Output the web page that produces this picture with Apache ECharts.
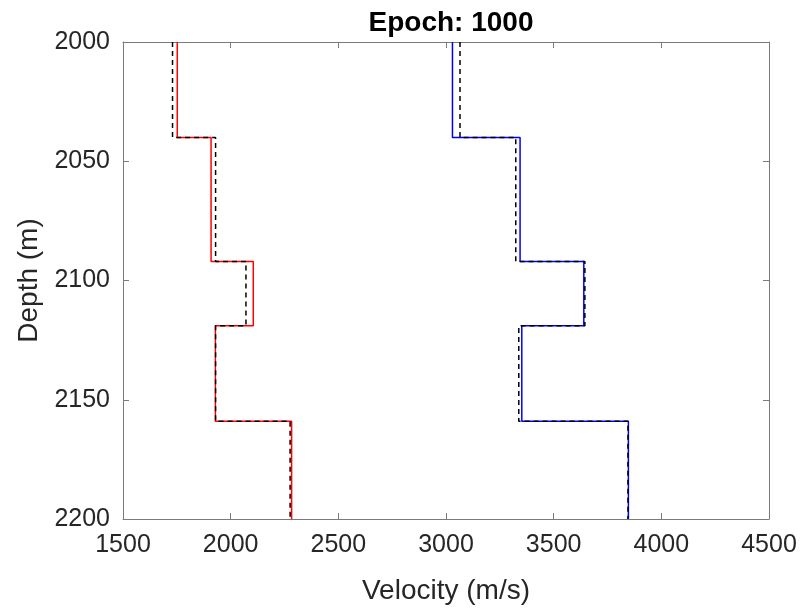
<!DOCTYPE html>
<html>
<head>
<meta charset="utf-8">
<script src="https://cdn.jsdelivr.net/npm/echarts@6/dist/echarts.min.js"></script>
<style>html,body{margin:0;padding:0;background:#fff}#c{width:805px;height:610px}</style>
</head>
<body>
<div id="c"></div>
<script>
const depthBounds = [2000, 2040, 2092, 2119, 2159, 2200];
const vpPred = [1752, 1909, 2105, 1929, 2283];
const vpTrue = [1730, 1930, 2071, 1930, 2276];
const vsPred = [3030, 3344, 3640, 3352, 3847];
const vsTrue = [3065, 3324, 3645, 3338, 3845];
const xTicks = [1500, 2000, 2500, 3000, 3500, 4000, 4500];
const yTicks = [2000, 2050, 2100, 2150, 2200];

function stepPoints(vals) {
  const pts = [];
  for (let i = 0; i < vals.length; i++) {
    pts.push([vals[i], depthBounds[i]]);
    pts.push([vals[i], depthBounds[i + 1]]);
  }
  return pts;
}

const font = '"Liberation Sans", Arial, sans-serif';
const axisCol = '#7a7a7a';
const txtCol = '#262626';
const chart = echarts.init(document.getElementById('c'), null, {renderer: 'canvas'});

function xAxisCfg(pos, show) {
  return {
    type: 'value', position: pos, min: xTicks[0], max: xTicks[xTicks.length - 1], interval: 500,
    axisLine: {show: true, onZero: false, lineStyle: {color: axisCol, width: 1}},
    axisTick: {show: true, inside: true, length: 6, lineStyle: {color: axisCol}},
    axisLabel: {show: show, color: txtCol, fontFamily: font, fontSize: 25, margin: 14,
      formatter: v => String(v)},
    splitLine: {show: false},
    name: show ? 'Velocity (m/s)' : '', nameLocation: 'middle', nameGap: 58,
    nameTextStyle: {color: txtCol, fontFamily: font, fontSize: 28}
  };
}
function yAxisCfg(pos, show) {
  return {
    type: 'value', position: pos, inverse: true, min: yTicks[0], max: yTicks[yTicks.length - 1], interval: 50,
    axisLine: {show: true, onZero: false, lineStyle: {color: axisCol, width: 1}},
    axisTick: {show: true, inside: true, length: 6, lineStyle: {color: axisCol}},
    axisLabel: {show: show, color: txtCol, fontFamily: font, fontSize: 25, margin: 13,
      formatter: v => String(v)},
    splitLine: {show: false},
    name: show ? 'Depth (m)' : '', nameLocation: 'middle', nameGap: 76,
    nameTextStyle: {color: txtCol, fontFamily: font, fontSize: 28}
  };
}

function lineSeries(vals, color, dashed, z) {
  return {
    type: 'line', data: stepPoints(vals), xAxisIndex: 0, yAxisIndex: 0,
    showSymbol: false, symbol: 'none', z: z, animation: false,
    lineStyle: {color: color, width: 1.5, type: dashed ? [5, 4] : 'solid'}
  };
}

chart.setOption({
  animation: false,
  backgroundColor: '#fff',
  title: {
    text: 'Epoch: 1000', left: 446, top: 4, textAlign: 'center',
    textStyle: {fontFamily: font, fontSize: 28, fontWeight: 'bold', color: '#000'}
  },
  grid: {left: 123, top: 42, right: 36, bottom: 86, containLabel: false},
  xAxis: [xAxisCfg('bottom', true), xAxisCfg('top', false)],
  yAxis: [yAxisCfg('left', true), yAxisCfg('right', false)],
  series: [
    lineSeries(vpPred, '#ff0000', false, 2),
    lineSeries(vsPred, '#0000ff', false, 2),
    lineSeries(vpTrue, '#000000', true, 3),
    lineSeries(vsTrue, '#000000', true, 3)
  ]
});
</script>
</body>
</html>
